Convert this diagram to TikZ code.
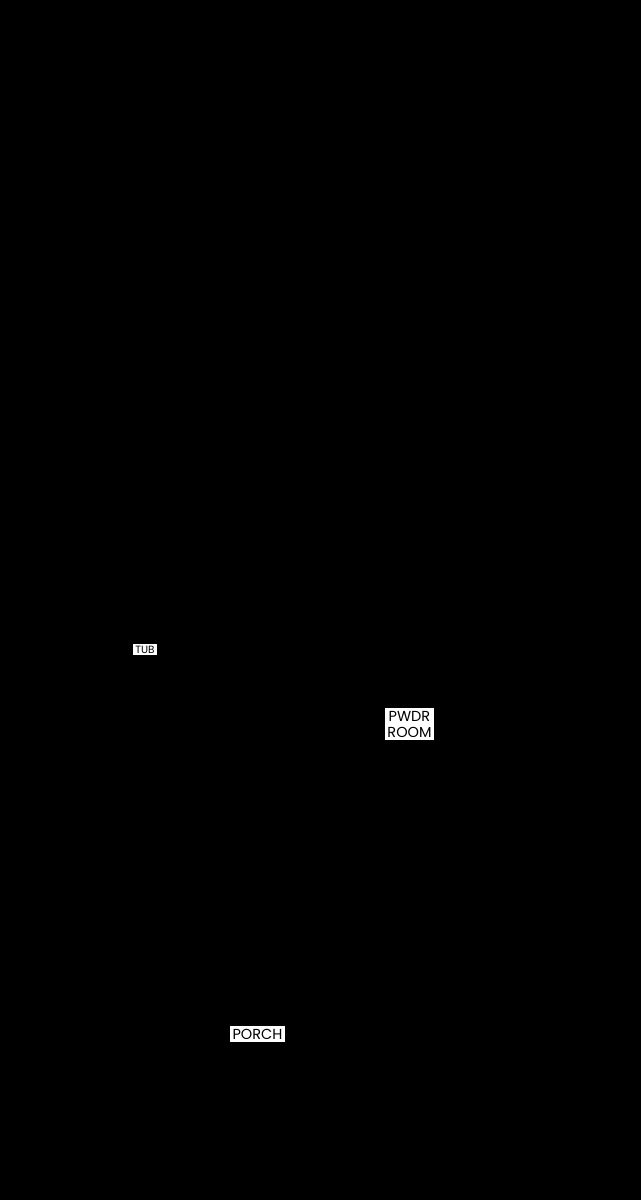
\documentclass[tikz,border=0pt]{standalone}
\usepackage{fontspec}
\setmainfont{Poppins}
\tikzset{
  roomlabel/.style={fill=white, text=black, inner xsep=2.5pt, inner ysep=2.5pt, align=center},
}
\begin{document}
\begin{tikzpicture}[x=1pt, y=-1pt]
    		% plan background:
    		\fill [black] (0,0) rectangle (641,1200);
    		\useasboundingbox (0,0) rectangle (641,1200);
     	% bath:
     	\node [roomlabel, inner xsep=2pt, inner ysep=1.5pt, font=\fontsize{10.5}{11}\selectfont] (tub) at (145,649.5) {TUB};
     	% powder room:
    		\node [roomlabel, font=\fontsize{14.5}{16}\selectfont] (pwdr) at (409.5,724) {PWDR\\ROOM};
    		% porch:
    		\node [roomlabel, font=\fontsize{14.5}{16}\selectfont] (porch) at (257.5,1034) {PORCH};
    \end{tikzpicture}
\end{document}
